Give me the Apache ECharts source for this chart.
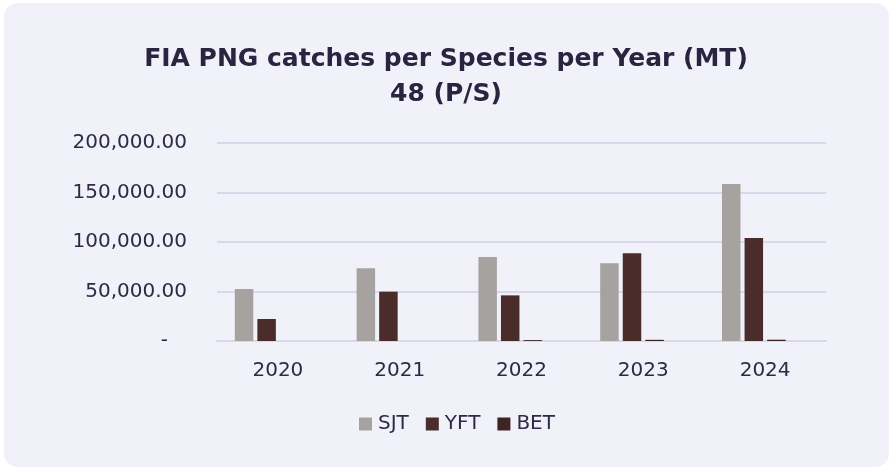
<!DOCTYPE html>
<html>
<head>
<meta charset="utf-8">
<script src="https://cdn.jsdelivr.net/npm/echarts@6/dist/echarts.min.js"></script>
<style>
  html, body { margin: 0; padding: 0; background: #ffffff; }
  #chart { width: 892px; height: 469px; }
</style>
</head>
<body>
<div id="chart"></div>
<script>
const categories = ['2020', '2021', '2022', '2023', '2024'];
const sjt = [52500, 73400, 84800, 78500, 158600];
const yft = [22200, 49800, 46100, 88600, 104000];
const bet = [0, 0, 900, 1200, 1300];
const seriesNames = ['SJT', 'YFT', 'BET'];
const yTicks = { min: 0, max: 200000, interval: 50000 };

const FONT = 'DejaVu Sans';
const TEXT = '#2E2A45';

const chart = echarts.init(document.getElementById('chart'), null, { renderer: 'canvas' });

function fmt(v) {
  if (v === 0) return '-   ';
  return v.toLocaleString('en-US', { minimumFractionDigits: 2, maximumFractionDigits: 2 });
}

chart.setOption({
  backgroundColor: '#ffffff',
  animation: false,
  graphic: [{
    type: 'rect',
    z: -10,
    silent: true,
    shape: { x: 4, y: 3, width: 885, height: 464, r: 14 },
    style: { fill: '#F1F1FA' }
  }],
  title: {
    text: 'FIA PNG catches per Species per Year (MT)\n48 (P/S)',
    left: 'center',
    top: 37,
    textStyle: {
      fontFamily: FONT,
      fontSize: 25,
      fontWeight: 'bold',
      color: '#2A2440',
      lineHeight: 35
    }
  },
  legend: {
    data: seriesNames,
    bottom: 30,
    left: 354,
    icon: 'rect',
    itemWidth: 13,
    itemHeight: 13,
    itemGap: 17,
    textStyle: { fontFamily: FONT, fontSize: 20, color: TEXT, padding: [0, 0, 0, 1] }
  },
  grid: { left: 217, right: 66, top: 143, bottom: 128, containLabel: false },
  xAxis: {
    type: 'category',
    data: categories,
    axisLine: { lineStyle: { color: '#D9D7EA', width: 2 } },
    axisTick: { show: false },
    axisLabel: { fontFamily: FONT, fontSize: 20, color: TEXT, margin: 20 }
  },
  yAxis: {
    type: 'value',
    min: yTicks.min,
    max: yTicks.max,
    interval: yTicks.interval,
    axisLine: { show: false },
    axisTick: { show: false },
    splitLine: { lineStyle: { color: '#D9D7EA', width: 2 } },
    axisLabel: { fontFamily: FONT, fontSize: 20, color: TEXT, margin: 30, formatter: fmt }
  },
  series: [
    { name: 'SJT', type: 'bar', data: sjt, barWidth: 18.5, barGap: '22%', itemStyle: { color: '#A6A2A0' } },
    { name: 'YFT', type: 'bar', data: yft, barWidth: 18.5, barGap: '22%', itemStyle: { color: '#4A2C2B' } },
    { name: 'BET', type: 'bar', data: bet, barWidth: 18.5, barGap: '22%', itemStyle: { color: '#3E2423' } },
    { name: 'pad', type: 'bar', data: [], barWidth: 18.5, barGap: '22%' }
  ]
});
</script>
</body>
</html>
